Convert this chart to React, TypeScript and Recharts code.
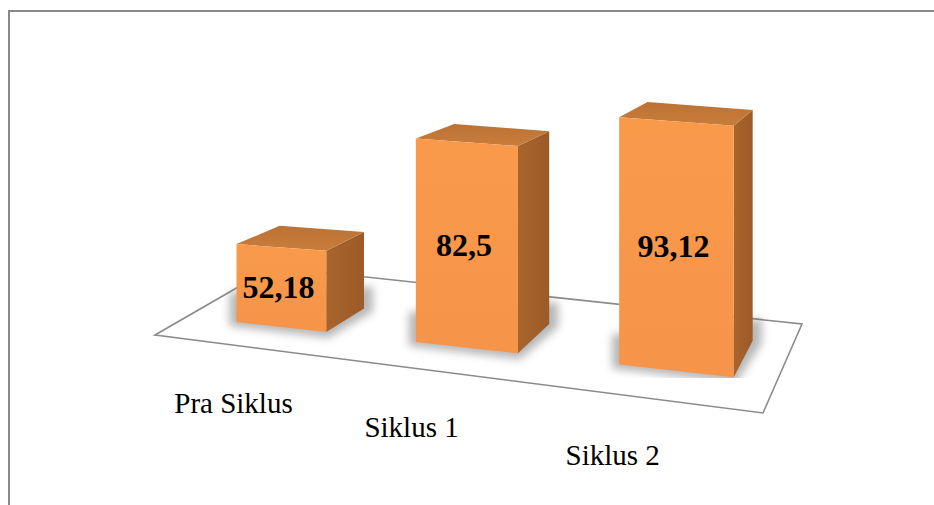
import React from 'react';
import { BarChart, Bar, XAxis, YAxis, LabelList, Customized } from 'recharts';

// ---- data ----
const categories = ['Pra Siklus', 'Siklus 1', 'Siklus 2'];
const scores = [52.18, 82.5, 93.12];
const scoreLabels = ['52,18', '82,5', '93,12'];
const yDomain: [number, number] = [33, 100];

const data = categories.map((name, i) => ({ name, value: scores[i], label: scoreLabels[i] }));

// ---- layout / projection constants ----
const W = 934;
const H = 505;
const BAND = W / 3;
const V = { x: 965, y: -67 }; // vanishing point for depth
const proj = (t: number) => 196.75 + 161.5 * t + 12 * t * t; // band coordinate -> screen x
const yBase = (sx: number) => 322 + 0.111 * (sx - 236); // floor line under bar fronts
const TOP_SLOPE = 0.075;
const depth = (xc: number) => 0.059 + 0.0000582 * (xc - 280.5);
const SERIF = "'Liberation Serif', 'Times New Roman', Times, serif";

type P = [number, number];
const pts = (a: P[]) => a.map((p) => `${p[0].toFixed(2)},${p[1].toFixed(2)}`).join(' ');

function geom(x: number, width: number, height: number) {
  const sx0 = proj(x / BAND);
  const sx1 = proj((x + width) / BAND);
  const xc = (sx0 + sx1) / 2;
  const ytop = (sx: number) => yBase(xc) - height + TOP_SLOPE * (sx - xc);
  const FBL: P = [sx0, yBase(sx0)];
  const FBR: P = [sx1, yBase(sx1)];
  const FTL: P = [sx0, ytop(sx0)];
  const FTR: P = [sx1, ytop(sx1)];
  const l = depth(xc);
  const back = (p: P): P => [p[0] + l * (V.x - p[0]), p[1] + l * (V.y - p[1])];
  return {
    sx0, sx1, xc,
    FBL, FBR, FTL, FTR,
    BTL: back(FTL), BTR: back(FTR), BBR: back(FBR), BBL: back(FBL),
    midY: (yBase(xc) + ytop(xc)) / 2,
  };
}

function Box3D(props: any) {
  const { x, width, height } = props;
  if (width == null || height == null) return null;
  const g = geom(x, width, height);
  const shadow: P[] = [
    [g.sx0 - 7, g.FBL[1] - 30],
    [g.sx0 - 7, g.FBL[1] + 4],
    [g.sx1 + 2, g.FBR[1] + 6],
    [g.BBR[0] + 9, g.BBR[1] + 3],
    [g.BBR[0] + 9, g.BBR[1] - 22],
  ];
  return (
    <g>
      <polygon points={pts(shadow)} fill="#6f6f6f" opacity={0.5} filter="url(#boxShadowBlur)" />
      <polygon points={pts([g.FTR, g.BTR, g.BBR, g.FBR])} fill="url(#sideGrad)" />
      <polygon points={pts([g.FTL, g.FTR, g.BTR, g.BTL])} fill="url(#topGrad)" />
      <polygon points={pts([g.FBL, g.FBR, g.FTR, g.FTL])} fill="url(#frontGrad)" />
    </g>
  );
}

function ValueLabel(props: any) {
  const { x, width, height, index } = props;
  if (width == null || height == null) return null;
  const g = geom(x, width, height);
  return (
    <text
      x={g.xc - 3}
      y={g.midY + 11}
      textAnchor="middle"
      style={{ fontFamily: SERIF, fontWeight: 'bold', fontSize: 32 }}
      fill="#000"
    >
      {scoreLabels[index]}
    </text>
  );
}

function CategoryTick(props: any) {
  const { x, payload } = props;
  const sx = proj(x / BAND);
  const lx = sx - 47 - 0.04 * (sx - 280);
  const ly = 413 + 0.1316 * (sx - 280);
  return (
    <text
      x={lx}
      y={ly}
      textAnchor="middle"
      style={{ fontFamily: SERIF, fontSize: 29 }}
      fill="#000"
    >
      {payload.value}
    </text>
  );
}

function Floor() {
  const FL: P = [155, 335];
  const BL: P = [273, 267];
  const BR: P = [802, 324];
  const FR: P = [763, 413];
  return (
    <g>
      <defs>
        <filter id="boxShadowBlur" x="-50%" y="-50%" width="200%" height="200%">
          <feGaussianBlur stdDeviation="4.5" />
        </filter>
        <linearGradient id="frontGrad" x1="0" y1="0" x2="0" y2="1">
          <stop offset="0" stopColor="#F99A4B" />
          <stop offset="1" stopColor="#F6944A" />
        </linearGradient>
        <linearGradient id="topGrad" x1="0" y1="0" x2="0" y2="1">
          <stop offset="0" stopColor="#BB7234" />
          <stop offset="1" stopColor="#C97D3C" />
        </linearGradient>
        <linearGradient id="sideGrad" x1="0" y1="0" x2="1" y2="0">
          <stop offset="0" stopColor="#AA652D" />
          <stop offset="1" stopColor="#9C5A27" />
        </linearGradient>
      </defs>
      <polygon points={pts([FL, BL, BR, FR])} fill="#fff" stroke="#8a8a8a" strokeWidth={1.6} />
    </g>
  );
}

export default function App() {
  return (
    <div style={{ position: 'absolute', left: 0, top: 0, width: W, height: H, background: '#fff', overflow: 'hidden' }}>
      <div
        style={{
          position: 'absolute',
          left: 8,
          top: 10,
          width: W,
          height: H,
          borderTop: '2px solid #888',
          borderLeft: '2px solid #888',
        }}
      />
      <div style={{ position: 'absolute', left: 0, top: 0 }}>
        <BarChart
          width={W}
          height={H}
          data={data}
          margin={{ top: 100, right: 0, bottom: 97, left: 0 }}
          barCategoryGap="24.2%"
        >
          <Customized component={Floor} />
          <XAxis
            dataKey="name"
            axisLine={false}
            tickLine={false}
            interval={0}
            height={30}
            tick={<CategoryTick />}
          />
          <YAxis hide domain={yDomain} allowDataOverflow />
          <Bar dataKey="value" isAnimationActive={false} shape={<Box3D />}>
            <LabelList dataKey="value" content={<ValueLabel />} />
          </Bar>
        </BarChart>
      </div>
    </div>
  );
}
